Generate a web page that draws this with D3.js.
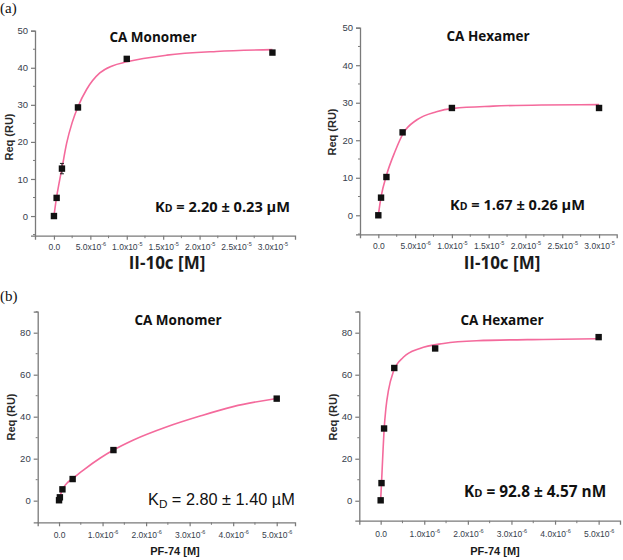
<!DOCTYPE html>
<html><head><meta charset="utf-8">
<script src="https://cdn.jsdelivr.net/npm/d3@7"></script>
<style>body{margin:0;background:#fff}svg{display:block}</style>
</head><body>
<svg id="c" width="623" height="560"></svg>
<script>
// ---------- data ----------
const aConc = [0, 0.37e-6, 1.1e-6, 3.3e-6, 10e-6, 30e-6];
const a1Req = [0, 4.9, 12.8, 29.3, 42.4, 44.1];
const a1Err = [0, 0, 1.4, 0.6, 0, 0];
const a2Req = [0, 4.7, 10.2, 22.1, 28.6, 28.6];
const a2Err = [0, 0.4, 0.5, 0.4, 0, 0];
const a1FitX = [0, 0.37e-6, 0.7e-6, 1.1e-6, 1.74e-6, 2.5e-6, 3.3e-6, 4.5e-6, 6.3e-6, 8e-6, 10e-6, 15.5e-6, 22.3e-6, 30e-6];
const a1FitY = [0, 5.2, 8.8, 12.9, 19.6, 25.2, 29.5, 34.2, 38.6, 40.5, 41.6, 43.4, 44.4, 44.9];
const a2FitX = [0, 0.37e-6, 1.13e-6, 2.27e-6, 3.4e-6, 5.2e-6, 7.9e-6, 10.2e-6, 15.6e-6, 22.4e-6, 30e-6];
const a2FitY = [0, 4.9, 10.8, 17.0, 21.9, 25.4, 27.6, 28.5, 29.1, 29.4, 29.5];

const bConc = [0, 0.0195e-6, 0.078e-6, 0.3125e-6, 1.25e-6, 5e-6];
const b1Req = [0.2, 1.6, 5.4, 10.3, 24.1, 48.6];
const b2Req = [0.2, 8.4, 34.4, 63.2, 72.5, 77.9];
const b1FitX = [0, 0.0195e-6, 0.078e-6, 0.18e-6, 0.31e-6, 0.56e-6, 0.94e-6, 1.25e-6, 1.71e-6, 2.48e-6, 3.24e-6, 4.0e-6, 5.0e-6];
const b1FitY = [0.3, 1.8, 5.3, 8.3, 10.5, 14.6, 20.2, 24.1, 28.9, 35.2, 40.3, 44.8, 48.7];
const b2FitX = [0, 0.0195e-6, 0.05e-6, 0.078e-6, 0.12e-6, 0.18e-6, 0.29e-6, 0.52e-6, 0.9e-6, 1.44e-6, 2.2e-6, 3.73e-6, 5.0e-6];
const b2FitY = [0.3, 8.4, 22.0, 33.5, 44.0, 52.7, 61.4, 68.3, 72.5, 74.9, 76.2, 76.8, 77.1];

const aXTicks = [0, 5e-6, 10e-6, 15e-6, 20e-6, 25e-6, 30e-6];
const aXLabels = [["0.0",""],["5.0x10","-6"],["1.0x10","-5"],["1.5x10","-5"],["2.0x10","-5"],["2.5x10","-5"],["3.0x10","-5"]];
const aXMinor = [2.5e-6, 7.5e-6, 12.5e-6, 17.5e-6, 22.5e-6, 27.5e-6];
const aYTicks = [0, 10, 20, 30, 40, 50];
const aYMinor = [-5, 5, 15, 25, 35, 45];
const bXTicks = [0, 1e-6, 2e-6, 3e-6, 4e-6, 5e-6];
const bXLabels = [["0.0",""],["1.0x10","-6"],["2.0x10","-6"],["3.0x10","-6"],["4.0x10","-6"],["5.0x10","-6"]];
const bXMinor = [0.5e-6, 1.5e-6, 2.5e-6, 3.5e-6, 4.5e-6];
const bYTicks = [0, 20, 40, 60, 80];
const bYMinor = [10, 30, 50, 70, 90];

const titles = ["CA Monomer", "CA Hexamer", "CA Monomer", "CA Hexamer"];
const kdValues = [["2.20 ± 0.23 µM"], ["1.67 ± 0.26 µM"], ["2.80 ± 1.40 µM"], ["92.8 ± 4.57 nM"]];
const xTitles = ["II-10c [M]", "II-10c [M]", "PF-74 [M]", "PF-74 [M]"];
const yTitle = "Req (RU)";

// ---------- drawing ----------
const svg = d3.select("#c");
const pink = "#f46a9c", axisCol = "#7a7a7a", tickCol = "#36404c";

function panel(o) {
  const x = d3.scaleLinear().domain(o.xd).range([o.left, o.right]);
  const y = d3.scaleLinear().domain(o.yd).range([o.bottom, o.top]);
  const g = svg.append("g");
  // y axis
  const ya = g.append("g").attr("transform", `translate(${o.left},0)`)
    .call(d3.axisLeft(y).tickValues(o.yTicks).tickSize(4).tickPadding(3).tickFormat(d3.format("d")));
  ya.select(".domain").attr("stroke", axisCol).attr("stroke-width", 1.3);
  ya.selectAll(".tick line").attr("stroke", axisCol).attr("stroke-width", 1.2);
  ya.selectAll(".tick text").attr("fill", tickCol).attr("font-family", "Liberation Sans, Arial, sans-serif").attr("font-size", 9.5);
  g.selectAll(".ymin").data(o.yMinor.filter(v => v >= o.yd[0] && v <= o.yd[1])).join("line")
    .attr("x1", o.left - 2).attr("x2", o.left).attr("y1", d => y(d)).attr("y2", d => y(d))
    .attr("stroke", axisCol).attr("stroke-width", 1);
  // x axis
  const xa = g.append("g").attr("transform", `translate(0,${o.bottom})`)
    .call(d3.axisBottom(x).tickValues(o.xTicks).tickSize(4).tickFormat(""));
  xa.select(".domain").attr("stroke", axisCol).attr("stroke-width", 1.3);
  xa.selectAll(".tick line").attr("stroke", axisCol).attr("stroke-width", 1.2);
  const lab = xa.selectAll(".tick text").attr("fill", tickCol)
    .attr("font-family", "Liberation Sans, Arial, sans-serif").attr("font-size", 8.5).attr("dy", o.xLabDy);
  lab.each(function(d, i) {
    const t = d3.select(this);
    t.text(null);
    t.append("tspan").text(o.xLabels[i][0]);
    if (o.xLabels[i][1]) t.append("tspan").attr("font-size", 5.5).attr("dy", -4).text(o.xLabels[i][1]);
  });
  g.selectAll(".xmin").data(o.xMinor).join("line")
    .attr("x1", d => x(d)).attr("x2", d => x(d)).attr("y1", o.bottom).attr("y2", o.bottom + 2.5)
    .attr("stroke", axisCol).attr("stroke-width", 1);
  // fit curve
  const pts = o.fitX.map((v, i) => [v, o.fitY[i]]);
  g.append("path").datum(pts)
    .attr("d", d3.line().x(d => x(d[0])).y(d => y(d[1])).curve(d3.curveMonotoneX))
    .attr("fill", "none").attr("stroke", pink).attr("stroke-width", 1.6);
  // error bars
  o.conc.forEach((c, i) => {
    const e = o.err ? o.err[i] : 0;
    if (e > 0) {
      g.append("line").attr("x1", x(c)).attr("x2", x(c)).attr("y1", y(o.req[i] - e)).attr("y2", y(o.req[i] + e))
        .attr("stroke", "#222").attr("stroke-width", 1);
      [o.req[i] - e, o.req[i] + e].forEach(v => g.append("line").attr("x1", x(c) - 2).attr("x2", x(c) + 2)
        .attr("y1", y(v)).attr("y2", y(v)).attr("stroke", "#222").attr("stroke-width", 1));
    }
  });
  // points
  g.selectAll(".pt").data(o.conc.map((c, i) => [c, o.req[i]])).join("rect")
    .attr("x", d => x(d[0]) - 3.2).attr("y", d => y(d[1]) - 3.2).attr("width", 6.4).attr("height", 6.4)
    .attr("fill", "#111");
  // title
  g.append("text").attr("x", o.titleX).attr("y", o.titleY).attr("text-anchor", "middle")
    .attr("font-family", "Open Sans, sans-serif").attr("font-weight", 700).attr("font-size", 13.5)
    .attr("fill", "#111").text(o.title);
  // KD
  const kd = g.append("text").attr("x", o.kdX).attr("y", o.kdY)
    .attr("font-family", o.kdFont).attr("font-weight", o.kdWeight).attr("font-size", o.kdSize).attr("fill", "#111");
  kd.append("tspan").text("K");
  kd.append("tspan").attr("font-size", o.kdSize * 0.72).attr("dy", o.kdSub).text("D");
  kd.append("tspan").attr("dy", -o.kdSub).text(" = " + o.kd);
  // x title
  g.append("text").attr("x", o.xtX).attr("y", o.xtY).attr("text-anchor", "middle")
    .attr("font-family", o.xtFont).attr("font-weight", 700).attr("font-size", o.xtSize).attr("fill", "#1a1a1a").text(o.xTitle);
  // y title
  g.append("text").attr("transform", `translate(${o.ytX},${o.ytY}) rotate(-90)`).attr("text-anchor", "middle")
    .attr("font-family", "Liberation Sans, Arial, sans-serif").attr("font-weight", 700).attr("font-size", 11)
    .attr("fill", "#2a2a2a").text(yTitle);
}

const common = {kdFont: "Open Sans, sans-serif"};
panel(Object.assign({}, common, {
  left: 35, right: 295, top: 30.7, bottom: 235.7, xd: [-2.6e-6, 3.31e-5], yd: [-5.3, 50],
  xTicks: aXTicks, xLabels: aXLabels, xMinor: aXMinor, yTicks: aYTicks, yMinor: aYMinor, xLabDy: "0.85em",
  conc: aConc, req: a1Req, err: a1Err, fitX: a1FitX, fitY: a1FitY,
  title: titles[0], titleX: 153, titleY: 42, kd: kdValues[0][0], kdX: 155, kdY: 212, kdSize: 14.6, kdWeight: 700, kdSub: 0,
  xTitle: xTitles[0], xtX: 167, xtY: 269, xtFont: "Open Sans, sans-serif", xtSize: 17, ytX: 13, ytY: 137
}));
panel(Object.assign({}, common, {
  left: 360, right: 616.7, top: 27.7, bottom: 234.3, xd: [-2.49e-6, 3.24e-5], yd: [-5.07, 50],
  xTicks: aXTicks, xLabels: aXLabels, xMinor: aXMinor, yTicks: aYTicks, yMinor: aYMinor, xLabDy: "0.85em",
  conc: aConc, req: a2Req, err: a2Err, fitX: a2FitX, fitY: a2FitY,
  title: titles[1], titleX: 488, titleY: 41, kd: kdValues[1][0], kdX: 450, kdY: 210, kdSize: 14.6, kdWeight: 700, kdSub: 0,
  xTitle: xTitles[1], xtX: 502, xtY: 269, xtFont: "Open Sans, sans-serif", xtSize: 17, ytX: 336, ytY: 132
}));
panel(Object.assign({}, common, {
  left: 37.7, right: 295, top: 311.7, bottom: 522.3, xd: [-0.49e-6, 5.42e-6], yd: [-10.3, 90],
  xTicks: bXTicks, xLabels: bXLabels, xMinor: bXMinor, yTicks: bYTicks, yMinor: bYMinor, xLabDy: "1.05em",
  conc: bConc, req: b1Req, err: null, fitX: b1FitX, fitY: b1FitY,
  title: titles[2], titleX: 178, titleY: 325, kd: kdValues[2][0], kdX: 148, kdY: 505, kdSize: 16.3, kdWeight: 400, kdSub: 3,
  kdFont: "Liberation Sans, Arial, sans-serif",
  xTitle: xTitles[2], xtX: 175, xtY: 555, xtFont: "Liberation Sans, Arial, sans-serif", xtSize: 11, ytX: 15, ytY: 417
}));
panel(Object.assign({}, common, {
  left: 359.3, right: 620, top: 311.7, bottom: 520.7, xd: [-0.49e-6, 5.49e-6], yd: [-9.5, 90],
  xTicks: bXTicks, xLabels: bXLabels, xMinor: bXMinor, yTicks: bYTicks, yMinor: bYMinor, xLabDy: "1.05em",
  conc: bConc, req: b2Req, err: null, fitX: b2FitX, fitY: b2FitY,
  title: titles[3], titleX: 502, titleY: 325, kd: kdValues[3][0], kdX: 464, kdY: 497, kdSize: 15.4, kdWeight: 700, kdSub: 0,
  xTitle: xTitles[3], xtX: 495, xtY: 555, xtFont: "Liberation Sans, Arial, sans-serif", xtSize: 11, ytX: 337, ytY: 417
}));

// panel letters
svg.append("text").attr("x", 0).attr("y", 13).attr("font-family", "Liberation Serif, Times New Roman, serif")
  .attr("font-size", 15).attr("fill", "#111").text("(a)");
svg.append("text").attr("x", 0).attr("y", 301).attr("font-family", "Liberation Serif, Times New Roman, serif")
  .attr("font-size", 15).attr("fill", "#111").text("(b)");
</script>
</body></html>
